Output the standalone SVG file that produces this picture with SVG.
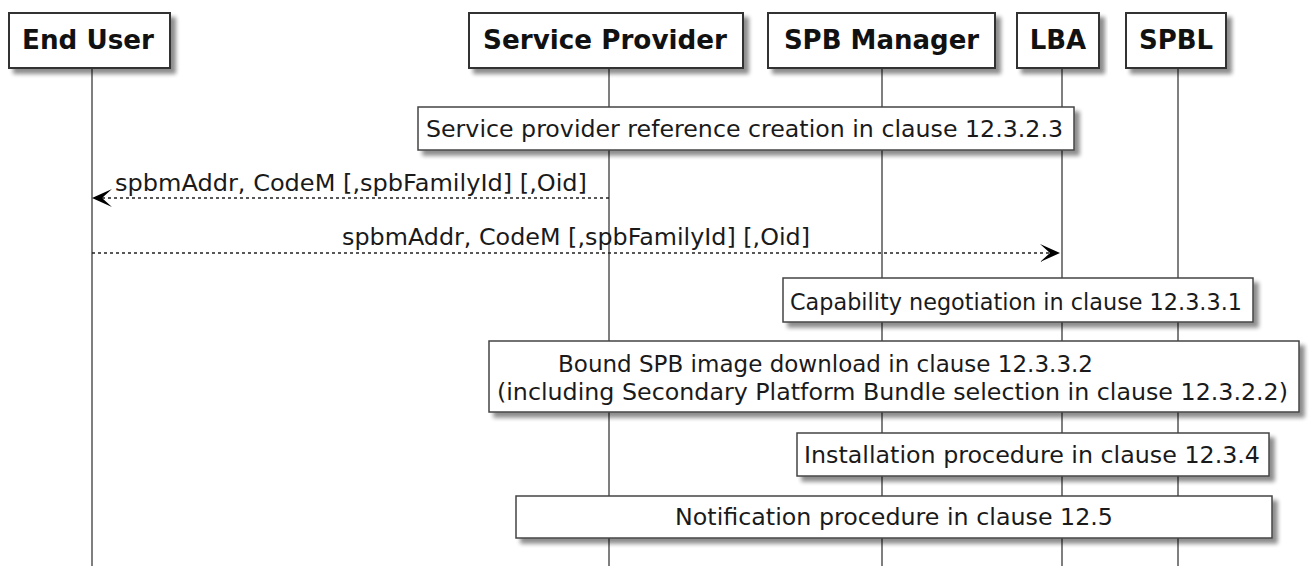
<svg xmlns="http://www.w3.org/2000/svg" width="1310" height="566" viewBox="0 0 1310 566">
<defs>
<filter id="sh" x="-5%" y="-20%" width="115%" height="160%">
<feGaussianBlur in="SourceAlpha" stdDeviation="2"/>
<feOffset dx="5" dy="5" result="o"/>
<feComponentTransfer><feFuncA type="linear" slope="0.45"/></feComponentTransfer>
<feMerge><feMergeNode/><feMergeNode in="SourceGraphic"/></feMerge>
</filter>
</defs>
<style>
.life{stroke:#555;stroke-width:1.5;fill:none}
.box{fill:#fff;stroke:#333;stroke-width:2}
.note{fill:#fff;stroke:#444;stroke-width:1.5}
.pt{font-family:"DejaVu Sans",sans-serif;font-weight:bold;font-size:26px;fill:#111}
.nt{font-family:"DejaVu Sans",sans-serif;font-size:23.5px;fill:#1a1a1a}
.msg{stroke:#222;stroke-width:1.5;stroke-dasharray:3,3;fill:none}
.ah{fill:#000}
</style>
<rect width="1310" height="566" fill="#fff"/>
<g id="lifelines">
<line class="life" x1="92" y1="68" x2="92" y2="566"/>
<line class="life" x1="609" y1="68" x2="609" y2="566"/>
<line class="life" x1="882" y1="68" x2="882" y2="566"/>
<line class="life" x1="1062" y1="68" x2="1062" y2="566"/>
<line class="life" x1="1178" y1="68" x2="1178" y2="566"/>
</g>
<g id="p-enduser"><rect class="box" filter="url(#sh)" x="9" y="13" width="161" height="55"/><text class="pt" x="22" y="49" textLength="132" lengthAdjust="spacingAndGlyphs">End User</text></g>
<g id="p-sp"><rect class="box" filter="url(#sh)" x="469" y="13" width="274" height="55"/><text class="pt" x="483" y="49" textLength="244" lengthAdjust="spacingAndGlyphs">Service Provider</text></g>
<g id="p-spbm"><rect class="box" filter="url(#sh)" x="768" y="13" width="227" height="55"/><text class="pt" x="881.5" y="49" text-anchor="middle">SPB Manager</text></g>
<g id="p-lba"><rect class="box" filter="url(#sh)" x="1017" y="13" width="82" height="55"/><text class="pt" x="1058" y="49" text-anchor="middle">LBA</text></g>
<g id="p-spbl"><rect class="box" filter="url(#sh)" x="1126" y="13" width="100" height="55"/><text class="pt" x="1176" y="49" text-anchor="middle">SPBL</text></g>
<g id="n1"><rect class="note" filter="url(#sh)" x="418" y="107" width="656" height="43"/><text class="nt" x="426" y="137" textLength="637" lengthAdjust="spacingAndGlyphs">Service provider reference creation in clause 12.3.2.3</text></g>
<g id="connectors">
<line class="msg" x1="609" y1="198" x2="96" y2="198"/>
<polygon class="ah" points="92,198 112,189 102,198 112,207"/>
<text class="nt" x="115" y="191" textLength="472" lengthAdjust="spacingAndGlyphs">spbmAddr, CodeM [,spbFamilyId] [,Oid]</text>
<line class="msg" x1="92" y1="253" x2="1056" y2="253"/>
<polygon class="ah" points="1060,253 1040,244 1050,253 1040,262"/>
<text class="nt" x="342" y="245" textLength="468" lengthAdjust="spacingAndGlyphs">spbmAddr, CodeM [,spbFamilyId] [,Oid]</text>
</g>
<g id="n2"><rect class="note" filter="url(#sh)" x="783" y="278" width="470" height="44"/><text class="nt" x="790" y="310" textLength="452" lengthAdjust="spacingAndGlyphs">Capability negotiation in clause 12.3.3.1</text></g>
<g id="n3"><rect class="note" filter="url(#sh)" x="489" y="341" width="810" height="71"/><text class="nt" x="558" y="372" textLength="535" lengthAdjust="spacingAndGlyphs">Bound SPB image download in clause 12.3.3.2</text><text class="nt" x="497" y="400" textLength="791" lengthAdjust="spacingAndGlyphs">(including Secondary Platform Bundle selection in clause 12.3.2.2)</text></g>
<g id="n4"><rect class="note" filter="url(#sh)" x="797" y="433" width="472" height="43"/><text class="nt" x="804" y="463" textLength="456" lengthAdjust="spacingAndGlyphs">Installation procedure in clause 12.3.4</text></g>
<g id="n5"><rect class="note" filter="url(#sh)" x="516" y="496" width="756" height="42"/><text class="nt" x="675" y="525" textLength="438" lengthAdjust="spacingAndGlyphs">Notification procedure in clause 12.5</text></g>
</svg>
